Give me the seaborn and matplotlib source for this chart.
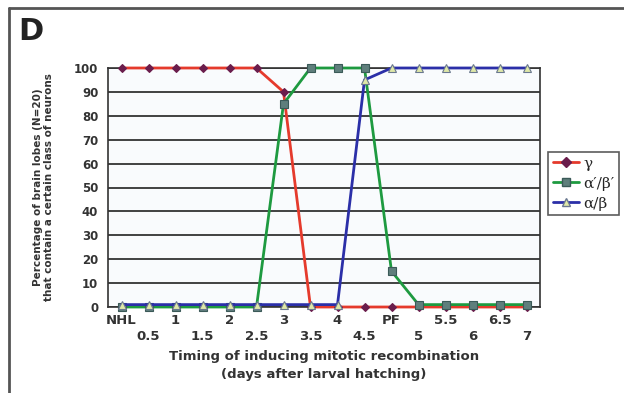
import pandas as pd
import matplotlib.pyplot as plt
import seaborn as sns
from matplotlib.lines import Line2D

# Data
categories = ['NHL', '0.5', '1', '1.5', '2', '2.5', '3', '3.5', '4', '4.5',
              'PF', '5', '5.5', '6', '6.5', '7']
gamma = [100, 100, 100, 100, 100, 100, 90, 0, 0, 0, 0, 0, 0, 0, 0, 0]
ab_prime = [0, 0, 0, 0, 0, 0, 85, 100, 100, 100, 15, 1, 1, 1, 1, 1]
ab = [1, 1, 1, 1, 1, 1, 1, 1, 1, 95, 100, 100, 100, 100, 100, 100]
series_names = ['γ', "α\u2032/β\u2032", 'α/β']

pos = list(range(len(categories)))
df = pd.concat([
    pd.DataFrame({'pos': pos, 'value': vals, 'series': name})
    for name, vals in zip(series_names, [gamma, ab_prime, ab])
])

sns.set_style('white')
plt.rcParams['font.family'] = ['DejaVu Sans']

fig = plt.figure(figsize=(6.24, 3.93), dpi=100)
fig.patch.set_facecolor('white')
ax = fig.add_axes([108 / 624, 1 - 307 / 393, 432 / 624, 239 / 393])
ax.set_facecolor('#f9fbfd')

palette = {'γ': '#e53a2c', "α\u2032/β\u2032": '#1e9a40', 'α/β': '#2b2fa8'}
markers = {'γ': 'D', "α\u2032/β\u2032": 's', 'α/β': '^'}
sns.lineplot(data=df, x='pos', y='value', hue='series', style='series',
             palette=palette, markers=markers, dashes=False, sort=False,
             linewidth=2, markersize=6, ax=ax, legend=False, zorder=3)

# marker face/edge colours per series
face = {'γ': '#6a1d4c', "α\u2032/β\u2032": '#5f7f7c', 'α/β': '#dfe8a8'}
edge = {'γ': '#6a1d4c', "α\u2032/β\u2032": '#3b5a58', 'α/β': '#6a7890'}
for line, name in zip(ax.lines, series_names):
    line.set_markerfacecolor(face[name])
    line.set_markeredgecolor(edge[name])
    line.set_markeredgewidth(0.8)
    line.set_clip_on(False)
    if name == 'γ':
        line.set_markersize(4.5)

ax.set_xlim(-0.5, len(categories) - 0.5)
ax.set_ylim(0, 100)
ax.set_yticks(range(0, 101, 10))
ax.yaxis.grid(True, color='#222222', linewidth=1.2)
ax.xaxis.grid(False)
for s in ax.spines.values():
    s.set_color('#333333')
    s.set_linewidth(1.2)

ax.set_xticks(pos)
ax.set_xticklabels([c if i % 2 == 0 else '\n' + c for i, c in enumerate(categories)],
                   fontsize=9.5, fontweight='bold', color='#333333', linespacing=1.35)
ax.set_xticks([p - 0.5 for p in pos] + [len(pos) - 0.5], minor=True)
ax.tick_params(axis='x', which='major', length=3, width=1, direction='out',
               color='#333333', pad=2)
ax.tick_params(axis='x', which='minor', length=4, width=1, direction='out',
               color='#333333')
ax.tick_params(axis='y', length=5, width=1, direction='out', color='#333333',
               labelsize=8.5, pad=2)
for t in ax.get_yticklabels():
    t.set_fontweight('bold')
    t.set_color('#333333')

ax.set_xlabel('Timing of inducing mitotic recombination\n(days after larval hatching)',
              fontsize=9.5, fontweight='bold', color='#333333', labelpad=5,
              linespacing=1.5)
ax.set_ylabel('Percentage of brain lobes (N=20)\nthat contain a certain class of neurons',
              fontsize=7.5, fontweight='bold', color='#333333', labelpad=14)

# legend
handles = [Line2D([], [], color=palette[n], marker=markers[n], markersize=5.5,
                  markerfacecolor=face[n], markeredgecolor=edge[n], linewidth=2)
           for n in series_names]
leg = fig.legend(handles, series_names, loc='upper left',
                 bbox_to_anchor=(548 / 624, 1 - 152 / 393), frameon=True,
                 prop={'family': 'DejaVu Serif', 'size': 11}, handlelength=1.7,
                 labelspacing=0.4, borderpad=0.3, handletextpad=0.3,
                 borderaxespad=0, fancybox=False)
leg.get_frame().set_edgecolor('#333333')
leg.get_frame().set_linewidth(1.2)

fig.text(18 / 624, 1 - 40 / 393, 'D', fontsize=22, fontweight='bold', color='#222222')

# panel frame (top and left edges)
fig.add_artist(Line2D([9 / 624, 1], [1 - 8 / 393, 1 - 8 / 393], color='#555555', linewidth=2))
fig.add_artist(Line2D([9 / 624, 9 / 624], [0, 1 - 8 / 393], color='#555555', linewidth=2))

plt.savefig('out.png', dpi=100)
